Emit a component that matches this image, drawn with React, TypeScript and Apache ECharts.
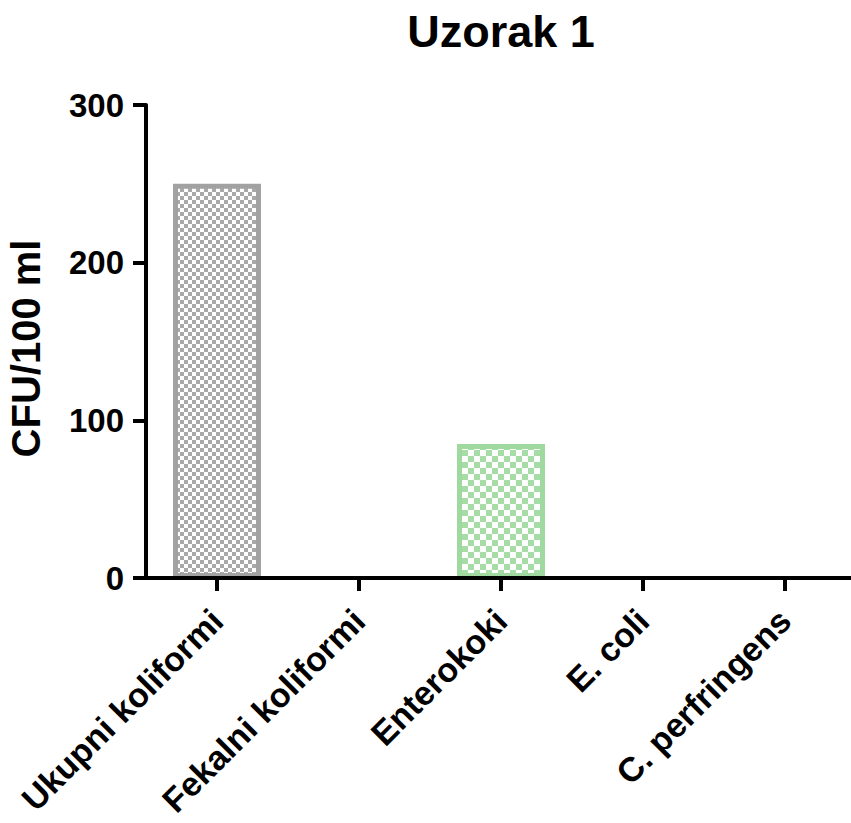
import React, { useEffect, useRef } from "react";
import * as echarts from "echarts";

const categories = ["Ukupni koliformi", "Fekalni koliformi", "Enterokoki", "E. coli", "C. perfringens"];
const values = [250, 0, 85, 0, 0];
const yTicks = [0, 100, 200, 300];

const fillColors = ["#a9a9a9", "#a9a9a9", "#a6dca6", "#a9a9a9", "#a9a9a9"];
const borderColors = ["#a2a2a2", "#a2a2a2", "#a0d9a0", "#a2a2a2", "#a2a2a2"];
const cellSizes = [4, 4, 6, 4, 4];

const FONT = "'Liberation Sans', Arial, sans-serif";

function makePattern(color: string, cell: number) {
  const c = document.createElement("canvas");
  c.width = cell * 2;
  c.height = cell * 2;
  const ctx = c.getContext("2d")!;
  ctx.fillStyle = "#ffffff";
  ctx.fillRect(0, 0, cell * 2, cell * 2);
  ctx.fillStyle = color;
  ctx.fillRect(0, 0, cell, cell);
  ctx.fillRect(cell, cell, cell, cell);
  return { image: c.toDataURL(), repeat: "repeat", imageWidth: cell * 2, imageHeight: cell * 2 } as any;
}

export default function App() {
  const ref = useRef<HTMLDivElement>(null);
  useEffect(() => {
    if (!ref.current) return;
    const chart = echarts.init(ref.current, undefined, { renderer: "svg" });
    const data = values.map((v, i) => ({
      value: v,
      itemStyle: {
        color: makePattern(fillColors[i], cellSizes[i]),
        borderColor: borderColors[i],
        borderWidth: v === 0 ? 0 : 5,
      },
    }));
    chart.setOption({
      animation: false,
      backgroundColor: "#ffffff",
      title: {
        text: "Uzorak 1",
        left: 496,
        top: 4,
        textAlign: "center",
        textStyle: { fontFamily: FONT, fontWeight: "bold", fontSize: 45, color: "#000" },
      },
      grid: { left: 146, right: -5, top: 105, bottom: 245, containLabel: false, outerBoundsMode: "none" },
      xAxis: {
        type: "category",
        data: categories,
        z: 5,
        axisLine: { show: true, lineStyle: { color: "#000", width: 4 } },
        axisTick: { show: true, alignWithLabel: true, length: 13, lineStyle: { color: "#000", width: 4 } },
        axisLabel: {
          rotate: 45,
          interval: 0,
          margin: 37,
          verticalAlign: "middle",
          fontFamily: FONT,
          fontWeight: "bold",
          fontSize: 34,
          color: "#000",
        },
      },
      yAxis: {
        type: "value",
        min: yTicks[0],
        max: yTicks[yTicks.length - 1],
        interval: 100,
        name: "CFU/100 ml",
        nameLocation: "middle",
        nameGap: 100,
        nameTextStyle: { fontFamily: FONT, fontWeight: "bold", fontSize: 40, color: "#000", padding: [0, 14, 0, 0] },
        splitLine: { show: false },
        z: 5,
        axisLine: { show: true, onZero: false, lineStyle: { color: "#000", width: 4 } },
        axisTick: { show: true, length: 13, lineStyle: { color: "#000", width: 4 } },
        axisLabel: { margin: 22, fontFamily: FONT, fontWeight: "bold", fontSize: 33, color: "#000" },
      },
      series: [
        {
          type: "bar",
          data,
          barWidth: 88,
        },
      ],
    });
    return () => chart.dispose();
  }, []);
  return <div ref={ref} style={{ position: "absolute", left: 0, top: 0, width: 851, height: 823 }} />;
}
